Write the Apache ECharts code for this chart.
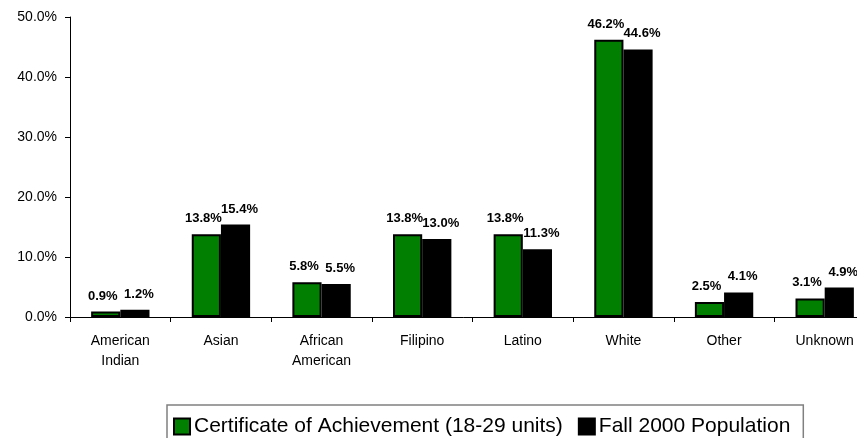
<!DOCTYPE html>
<html>
<head>
<meta charset="utf-8">
<style>
  html, body { margin: 0; padding: 0; background: #fff; }
  #chart { width: 857px; height: 438px; }
</style>
<script src="https://cdn.jsdelivr.net/npm/echarts@6/dist/echarts.min.js"></script>
</head>
<body>
<div id="chart"></div>
<script>
// Ethnicity breakdown: certificate recipients vs. overall fall population
const categories = ['American\nIndian', 'Asian', 'African\nAmerican', 'Filipino', 'Latino', 'White', 'Other', 'Unknown'];
const certificateShare = [0.9, 13.8, 5.8, 13.8, 13.8, 46.2, 2.5, 3.1];
const populationShare = [1.2, 15.4, 5.5, 13.0, 11.3, 44.6, 4.1, 4.9];
const yTicks = [0, 10, 20, 30, 40, 50];
const seriesNames = ['Certificate of Achievement (18-29 units)', 'Fall 2000 Population'];

const FONT = 'Arial, "Liberation Sans", sans-serif';
const chart = echarts.init(document.getElementById('chart'), null, { renderer: 'canvas' });

function valueLabel(dx) {
  return {
    show: true,
    position: 'top',
    distance: 9,
    offset: [dx, 0],
    fontFamily: FONT,
    fontSize: 13,
    fontWeight: 'bold',
    color: '#000',
    formatter: p => p.value.toFixed(1) + '%'
  };
}

chart.setOption({
  animation: false,
  backgroundColor: '#fff',
  // the last category runs past the right edge of the canvas
  grid: { left: 70, width: 805, top: 17, bottom: 121, containLabel: false, outerBoundsMode: 'none' },
  legend: {
    left: 167,
    top: 405,
    itemWidth: 16,
    itemHeight: 16,
    itemGap: 15,
    padding: [11, 13, 10, 6],
    borderColor: '#808080',
    borderWidth: 1.5,
    textStyle: { fontFamily: FONT, fontSize: 21, color: '#000', padding: [0, 0, 0, -1] },
    data: seriesNames.map(n => ({ name: n, icon: 'rect' }))
  },
  xAxis: {
    type: 'category',
    data: categories,
    axisLine: { lineStyle: { color: '#000', width: 1 } },
    axisTick: { show: true, length: 5, lineStyle: { color: '#000' } },
    axisLabel: {
      interval: 0,
      margin: 14,
      color: '#000',
      fontFamily: FONT,
      fontSize: 14,
      lineHeight: 20
    }
  },
  yAxis: {
    type: 'value',
    min: yTicks[0],
    max: yTicks[yTicks.length - 1],
    interval: yTicks[1] - yTicks[0],
    axisLine: { show: true, lineStyle: { color: '#000', width: 1 } },
    axisTick: { show: true, length: 5, lineStyle: { color: '#000' } },
    splitLine: { show: false },
    axisLabel: {
      margin: 13,
      color: '#000',
      fontFamily: FONT,
      fontSize: 14,
      formatter: v => v.toFixed(1) + '%'
    }
  },
  series: [
    {
      name: seriesNames[0],
      type: 'bar',
      data: certificateShare,
      barWidth: '29%',
      barGap: '0%',
      itemStyle: { color: '#007f00', borderColor: '#000', borderWidth: 2 },
      label: valueLabel(-3)
    },
    {
      name: seriesNames[1],
      type: 'bar',
      data: populationShare,
      barWidth: '29%',
      barGap: '0%',
      itemStyle: { color: '#000', borderColor: '#000', borderWidth: 2 },
      label: valueLabel(4)
    }
  ]
});
</script>
</body>
</html>
